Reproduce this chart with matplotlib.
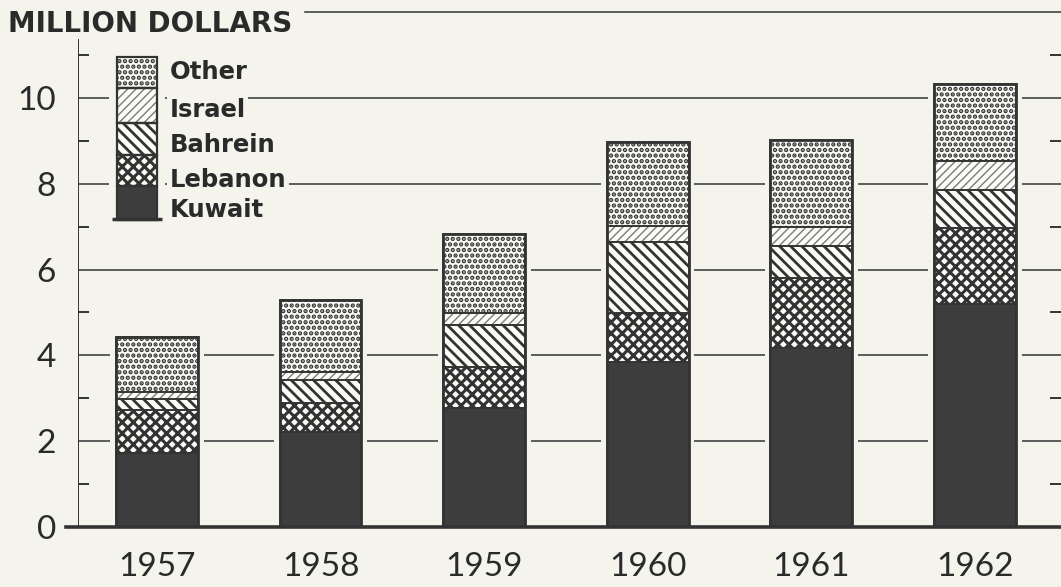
import matplotlib.pyplot as plt
from matplotlib.patches import Rectangle

# values, million dollars
years = ["1957", "1958", "1959", "1960", "1961", "1962"]
kuwait  = [1.72, 2.22, 2.77, 3.85, 4.17, 5.20]
lebanon = [1.00, 0.67, 0.96, 1.14, 1.63, 1.77]
bahrein = [0.27, 0.54, 0.98, 1.65, 0.75, 0.89]
israel  = [0.15, 0.18, 0.28, 0.38, 0.45, 0.67]
other   = [1.28, 1.68, 1.84, 1.95, 2.02, 1.80]

yticks = [0, 2, 4, 6, 8, 10]

BG = "#f4f4ec"
INK = "#333333"
WHITE = "#fbfbf7"

# name -> (facecolor, hatch, hatch colour, hatch linewidth)
styles = {
    "Kuwait":  ("#3d3d3d", None, INK, 1.0),
    "Lebanon": (WHITE, "xxx", INK, 2.2),
    "Bahrein": (WHITE, "\\\\\\", INK, 2.0),
    "Israel":  (WHITE, "////", "#7a7a7a", 1.0),
    "Other":   (WHITE, "...", INK, 2.2),
}
series = [("Kuwait", kuwait), ("Lebanon", lebanon), ("Bahrein", bahrein),
          ("Israel", israel), ("Other", other)]


def hatched(artist, hlw):
    if hasattr(artist, "set_hatch_linewidth"):
        artist.set_hatch_linewidth(hlw)


fig = plt.figure(figsize=(10.61, 5.87), dpi=100, facecolor=BG)
ax = fig.add_axes([0.0735, 0.1022, 0.9265, 0.8773], facecolor=BG)
ax.set_xlim(-0.483, 5.526)
ax.set_ylim(0, 12)

x = list(range(len(years)))
totals = [sum(v) for v in zip(*[s[1] for s in series])]

# gridlines between the bars
for v in yticks[1:]:
    ax.axhline(v, color=INK, lw=1.1, zorder=1)
# small gap around each bar
ax.bar(x, totals, width=0.57, color=BG, lw=0, zorder=2)

bottom = [0.0] * len(x)
for name, vals in series:
    fc, h, hc, hlw = styles[name]
    bars = ax.bar(x, vals, 0.5, bottom=bottom, facecolor=fc, edgecolor=hc,
                  hatch=h, lw=0, zorder=3)
    for p in bars:
        hatched(p, hlw)
    ax.bar(x, vals, 0.5, bottom=bottom, fill=False, edgecolor=INK, lw=1.2, zorder=4)
    bottom = [b + v for b, v in zip(bottom, vals)]
ax.bar(x, totals, 0.5, fill=False, edgecolor=INK, lw=2.0, zorder=5)

# axes frame
for s in ax.spines.values():
    s.set_visible(False)
ax.axvline(-0.483, ymin=0, ymax=11.35 / 12, color=INK, lw=1.4, zorder=6)
ax.axhline(0, xmin=-0.012, xmax=1, color=INK, lw=2.6, zorder=6, clip_on=False)
ax.axhline(12, xmin=0.231, xmax=1, color=INK, lw=1.1, clip_on=False)

ax.set_yticks(yticks)
ax.set_yticks([1, 3, 5, 7, 9, 11], minor=True)
ax.tick_params(axis="y", which="major", length=0, pad=16, labelsize=24,
               labelcolor="#2a2a2a")
ax.tick_params(axis="y", which="minor", direction="in", length=8, width=1.4,
               color=INK, right=True)
ax.set_xticks(x)
ax.set_xticklabels(years)
ax.tick_params(axis="x", length=0, pad=18, labelsize=24, labelcolor="#2a2a2a")
for lab in ax.get_xticklabels() + ax.get_yticklabels():
    lab.set_fontfamily("Lato")

fig.text(8 / 1061, 1 - 24 / 587, "MILLION DOLLARS", fontsize=20,
         fontweight="bold", color="#2a2a2a", va="center", ha="left")

# legend column, drawn top to bottom; label heights in axes fraction
lx0, lw_ = 0.0397, 0.0407
rows = [("Other", 0.9126, 0.852, 0.8835), ("Israel", 0.852, 0.784, 0.8097),
        ("Bahrein", 0.784, 0.722, 0.7417), ("Lebanon", 0.722, 0.662, 0.6738),
        ("Kuwait", 0.662, 0.596, 0.6155)]
ax.add_patch(Rectangle((lx0 - 0.008, 0.585), lw_ + 0.016, 0.34, transform=ax.transAxes,
                       facecolor=BG, lw=0, zorder=6))
for name, top, bot, ty in rows:
    fc, h, hc, hlw = styles[name]
    r = Rectangle((lx0, bot), lw_, top - bot, transform=ax.transAxes,
                  facecolor=fc, edgecolor=hc, hatch=h, lw=0, zorder=7)
    hatched(r, hlw)
    ax.add_patch(r)
    ax.add_patch(Rectangle((lx0, bot), lw_, top - bot, transform=ax.transAxes,
                           fill=False, edgecolor=INK, lw=1.6, zorder=8))
    ax.text(0.093, ty, name, transform=ax.transAxes, fontsize=17.5,
            fontweight="bold", color="#2a2a2a", va="center", ha="left", zorder=8,
            bbox=dict(facecolor=BG, edgecolor="none", pad=2))
ax.plot([lx0 - 0.005, lx0 + lw_ + 0.005], [0.598, 0.598], transform=ax.transAxes,
        color=INK, lw=2.5, zorder=8, solid_capstyle="butt")

fig.savefig("out.png", dpi=100, facecolor=BG)
